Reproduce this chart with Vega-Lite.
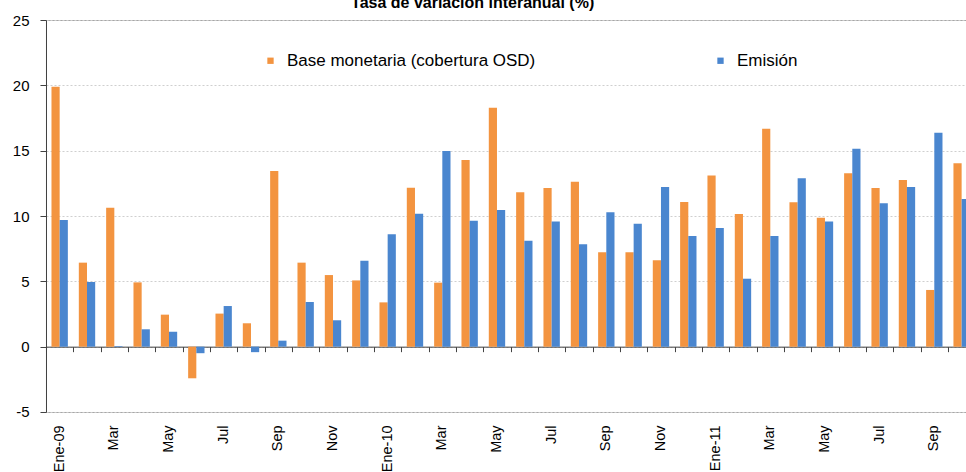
{
  "$schema": "https://vega.github.io/schema/vega-lite/v6.json",
  "autosize": {"type": "none"},
  "padding": {"left": 46, "top": 20, "right": 0, "bottom": 60},
  "width": 929.3,
  "height": 392,
  "background": "white",
  "config": {
    "view": {"stroke": "#a6a6a6", "strokeWidth": 1},
    "font": "Liberation Sans"
  },
  "title": {
    "text": "Tasa de variación interanual (%)",
    "font": "Liberation Sans",
    "fontSize": 16,
    "fontWeight": "bold",
    "color": "#000000",
    "anchor": "middle",
    "frame": "group",
    "dx": -38,
    "dy": 13,
    "baseline": "alphabetic",
    "offset": 2
  },
  "data": {
    "values": [
      {"mes": "Ene-09", "Base monetaria (cobertura OSD)": 19.9, "Emisión": 9.7},
      {"mes": "Feb-09", "Base monetaria (cobertura OSD)": 6.43, "Emisión": 4.95},
      {"mes": "Mar-09", "Base monetaria (cobertura OSD)": 10.64, "Emisión": 0.05},
      {"mes": "Abr-09", "Base monetaria (cobertura OSD)": 4.92, "Emisión": 1.33},
      {"mes": "May-09", "Base monetaria (cobertura OSD)": 2.45, "Emisión": 1.15},
      {"mes": "Jun-09", "Base monetaria (cobertura OSD)": -2.42, "Emisión": -0.5},
      {"mes": "Jul-09", "Base monetaria (cobertura OSD)": 2.53, "Emisión": 3.11},
      {"mes": "Ago-09", "Base monetaria (cobertura OSD)": 1.79, "Emisión": -0.42},
      {"mes": "Sep-09", "Base monetaria (cobertura OSD)": 13.44, "Emisión": 0.46},
      {"mes": "Oct-09", "Base monetaria (cobertura OSD)": 6.43, "Emisión": 3.42},
      {"mes": "Nov-09", "Base monetaria (cobertura OSD)": 5.48, "Emisión": 2.02},
      {"mes": "Dic-09", "Base monetaria (cobertura OSD)": 5.07, "Emisión": 6.58},
      {"mes": "Ene-10", "Base monetaria (cobertura OSD)": 3.39, "Emisión": 8.6},
      {"mes": "Feb-10", "Base monetaria (cobertura OSD)": 12.17, "Emisión": 10.18},
      {"mes": "Mar-10", "Base monetaria (cobertura OSD)": 4.9, "Emisión": 14.97},
      {"mes": "Abr-10", "Base monetaria (cobertura OSD)": 14.29, "Emisión": 9.64},
      {"mes": "May-10", "Base monetaria (cobertura OSD)": 18.29, "Emisión": 10.46},
      {"mes": "Jun-10", "Base monetaria (cobertura OSD)": 11.81, "Emisión": 8.11},
      {"mes": "Jul-10", "Base monetaria (cobertura OSD)": 12.14, "Emisión": 9.57},
      {"mes": "Ago-10", "Base monetaria (cobertura OSD)": 12.63, "Emisión": 7.83},
      {"mes": "Sep-10", "Base monetaria (cobertura OSD)": 7.22, "Emisión": 10.28},
      {"mes": "Oct-10", "Base monetaria (cobertura OSD)": 7.22, "Emisión": 9.41},
      {"mes": "Nov-10", "Base monetaria (cobertura OSD)": 6.61, "Emisión": 12.22},
      {"mes": "Dic-10", "Base monetaria (cobertura OSD)": 11.07, "Emisión": 8.47},
      {"mes": "Ene-11", "Base monetaria (cobertura OSD)": 13.09, "Emisión": 9.08},
      {"mes": "Feb-11", "Base monetaria (cobertura OSD)": 10.15, "Emisión": 5.2},
      {"mes": "Mar-11", "Base monetaria (cobertura OSD)": 16.68, "Emisión": 8.47},
      {"mes": "Abr-11", "Base monetaria (cobertura OSD)": 11.05, "Emisión": 12.88},
      {"mes": "May-11", "Base monetaria (cobertura OSD)": 9.87, "Emisión": 9.57},
      {"mes": "Jun-11", "Base monetaria (cobertura OSD)": 13.27, "Emisión": 15.15},
      {"mes": "Jul-11", "Base monetaria (cobertura OSD)": 12.14, "Emisión": 10.97},
      {"mes": "Ago-11", "Base monetaria (cobertura OSD)": 12.76, "Emisión": 12.22},
      {"mes": "Sep-11", "Base monetaria (cobertura OSD)": 4.34, "Emisión": 16.38},
      {"mes": "Oct-11", "Base monetaria (cobertura OSD)": 14.03, "Emisión": 11.3}
    ]
  },
  "transform": [
    {"fold": ["Base monetaria (cobertura OSD)", "Emisión"], "as": ["serie", "valor"]}
  ],
  "layer": [
    {
      "mark": {"type": "bar"},
      "encoding": {
        "x": {
          "field": "mes",
          "type": "nominal",
          "sort": null,
          "scale": {"paddingInner": 0, "paddingOuter": 0},
          "axis": {
            "title": null,
            "domain": false,
            "ticks": false,
            "grid": false,
            "labelAngle": -90,
            "labelPadding": 13,
            "labelFont": "Liberation Sans",
            "labelFontSize": 14.5,
            "labelColor": "#000000",
            "labelExpr": "test(/^Ene/, datum.value) ? datum.value : (test(/^(Mar|May|Jul|Sep|Nov)/, datum.value) ? slice(datum.value, 0, 3) : '')"
          }
        },
        "xOffset": {
          "field": "serie",
          "type": "nominal",
          "sort": ["Base monetaria (cobertura OSD)", "Emisión"],
          "scale": {"paddingInner": 0, "paddingOuter": 0.67}
        },
        "y": {
          "field": "valor",
          "type": "quantitative",
          "scale": {"domain": [-5, 25], "nice": false, "zero": false},
          "axis": {
            "title": null,
            "values": [-5, 0, 5, 10, 15, 20, 25],
            "labelExpr": "datum.value < 0 ? '-' + abs(datum.value) : '' + datum.value",
            "domainColor": "#404040",
            "tickColor": "#404040",
            "tickSize": 6,
            "labelPadding": 11,
            "labelFont": "Liberation Sans",
            "labelFontSize": 15,
            "labelColor": "#000000",
            "grid": true,
            "gridColor": "#cfcfcf",
            "gridDash": [2, 2]
          }
        },
        "color": {
          "field": "serie",
          "type": "nominal",
          "sort": ["Base monetaria (cobertura OSD)", "Emisión"],
          "scale": {"domain": ["Base monetaria (cobertura OSD)", "Emisión"], "range": ["#f39440", "#4a86cf"]},
          "legend": {
            "title": null,
            "orient": "none",
            "direction": "horizontal",
            "legendX": 216,
            "legendY": 32,
            "symbolType": "square",
            "symbolSize": 40,
            "symbolStrokeWidth": 0,
            "labelFont": "Liberation Sans",
            "labelFontSize": 17,
            "labelColor": "#000000",
            "labelLimit": 400,
            "labelOffset": 8,
            "columnPadding": 176
          }
        }
      }
    },
    {
      "mark": {"type": "point", "opacity": 0},
      "encoding": {
        "x": {
          "field": "mes",
          "type": "nominal",
          "sort": null,
          "axis": {
            "title": null,
            "orient": "bottom",
            "offset": -65.33,
            "labels": false,
            "grid": false,
            "domainColor": "#404040",
            "tickColor": "#404040",
            "tickSize": 5,
            "tickBand": "extent"
          }
        },
        "y": {"datum": 0, "type": "quantitative", "axis": null}
      }
    }
  ],
  "resolve": {"axis": {"x": "independent", "y": "independent"}}
}
